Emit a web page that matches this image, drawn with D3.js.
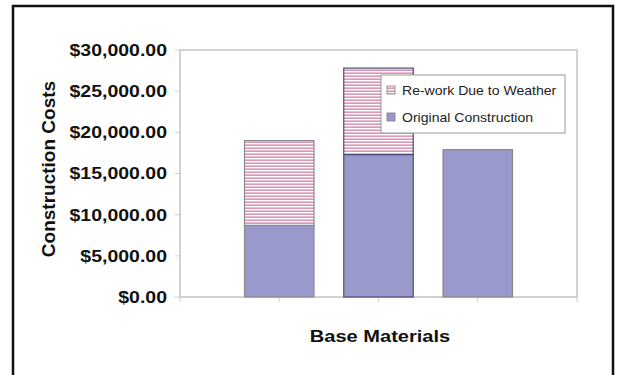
<html>
<script src="https://d3js.org/d3.v7.min.js"></script>
<body style="margin:0;background:#fff"></body>
<script>
const width = 618;
const height = 375;

// data
const materials = ['Material 1', 'Material 2', 'Material 3'];
const seriesNames = ['Re-work Due to Weather', 'Original Construction'];
const original = [8700, 17300, 17900];
const rework = [10300, 10500, 0];
const yTicks = [0, 5000, 10000, 15000, 20000, 25000, 30000];

const plot = {left: 180, right: 577, top: 50, bottom: 297};
const purple = '#9999cc';

// excel-ish text looks a bit wider than liberation, stretch it
function widen(sel, k) {
    sel.each(function () {
        const w = this.getComputedTextLength();
        d3.select(this).attr('textLength', w * k).attr('lengthAdjust', 'spacingAndGlyphs');
    });
}

const svg = d3.select('body').append('svg')
    .attr('width', width)
    .attr('height', height)
    .style('font-family', '"Liberation Sans", Arial, sans-serif');

const defs = svg.append('defs');
const hatch = defs.append('pattern')
    .attr('id', 'hatch')
    .attr('patternUnits', 'userSpaceOnUse')
    .attr('width', 6).attr('height', 3);
hatch.append('rect').attr('width', 6).attr('height', 3).attr('fill', '#fff');
hatch.append('rect').attr('y', 0.5).attr('width', 6).attr('height', 1.3).attr('fill', '#d27fa8');

// outer frame
svg.append('rect')
    .attr('x', 13).attr('y', 6)
    .attr('width', 600).attr('height', 420)
    .attr('fill', 'none')
    .attr('stroke', '#111')
    .attr('stroke-width', 2.5);

const x = d3.scaleBand()
    .domain(materials)
    .range([plot.left, plot.right])
    .paddingInner(0.3)
    .paddingOuter(0.65);

const y = d3.scaleLinear()
    .domain([0, 30000])
    .range([plot.bottom, plot.top]);

const fmt = d3.format('$,.2f');

// plot frame
svg.append('rect')
    .attr('x', plot.left).attr('y', plot.top)
    .attr('width', plot.right - plot.left).attr('height', plot.bottom - plot.top)
    .attr('fill', 'none')
    .attr('stroke', '#c4c4c4')
    .attr('stroke-width', 1.5);

// y ticks + labels
const yAxis = svg.append('g');
yAxis.selectAll('line')
    .data(yTicks)
    .enter().append('line')
        .attr('x1', plot.left - 5).attr('x2', plot.left)
        .attr('y1', d => y(d)).attr('y2', d => y(d))
        .attr('stroke', '#d0d0d0');
yAxis.selectAll('text')
    .data(yTicks)
    .enter().append('text')
        .attr('x', 167)
        .attr('y', d => y(d))
        .attr('dy', '0.36em')
        .attr('text-anchor', 'end')
        .attr('font-size', 16.5)
        .attr('font-weight', 'bold')
        .attr('fill', '#111')
        .text(d => fmt(d))
        .call(widen, 1.18);

// x ticks: edges plus band centres
const xTicks = [plot.left].concat(materials.map(m => x(m) + x.bandwidth() / 2), [plot.right]);
svg.append('g').selectAll('line')
    .data(xTicks)
    .enter().append('line')
        .attr('x1', d => d).attr('x2', d => d)
        .attr('y1', plot.bottom).attr('y2', plot.bottom + 5)
        .attr('stroke', '#d0d0d0');

// bars
const strokes = ['#8a8a8a', '#4b4b7c', '#8a8a8a'];
const bars = svg.append('g')
    .selectAll('g')
    .data(materials)
    .enter().append('g');

bars.append('rect')
    .attr('x', d => x(d))
    .attr('width', x.bandwidth())
    .attr('y', (d, i) => y(original[i]))
    .attr('height', (d, i) => y(0) - y(original[i]))
    .attr('fill', purple)
    .attr('stroke', (d, i) => strokes[i])
    .attr('stroke-width', 1.2);

bars.filter((d, i) => rework[i] > 0)
    .append('rect')
    .attr('x', d => x(d))
    .attr('width', x.bandwidth())
    .attr('y', d => { const i = materials.indexOf(d); return y(original[i] + rework[i]); })
    .attr('height', d => { const i = materials.indexOf(d); return y(original[i]) - y(original[i] + rework[i]); })
    .attr('fill', 'url(#hatch)')
    .attr('stroke', d => strokes[materials.indexOf(d)])
    .attr('stroke-width', 1.2);

// axis titles
svg.append('text')
    .attr('transform', 'translate(55,169) rotate(-90)')
    .attr('text-anchor', 'middle')
    .attr('font-size', 19)
    .attr('font-weight', 'bold')
    .attr('fill', '#111')
    .text('Construction Costs');

svg.append('text')
    .attr('x', 380)
    .attr('y', 342)
    .attr('text-anchor', 'middle')
    .attr('font-size', 17)
    .attr('font-weight', 'bold')
    .attr('fill', '#111')
    .text('Base Materials')
    .call(widen, 1.18);

// legend
const legend = svg.append('g').attr('transform', 'translate(381,75)');
legend.append('rect')
    .attr('width', 184).attr('height', 58)
    .attr('fill', '#fff')
    .attr('stroke', '#9a9a9a');
const items = legend.selectAll('g.item')
    .data(seriesNames)
    .enter().append('g')
        .attr('class', 'item')
        .attr('transform', (d, i) => `translate(6,${15 + i * 27})`);
items.append('rect')
    .attr('y', -4)
    .attr('width', 8).attr('height', 8)
    .attr('fill', (d, i) => i === 0 ? 'url(#hatch)' : purple)
    .attr('stroke', '#7a7a7a')
    .attr('stroke-width', 0.8);
items.append('text')
    .attr('x', 15)
    .attr('dy', '0.36em')
    .attr('font-size', 13)
    .attr('fill', '#222')
    .text(d => d)
    .call(widen, 1.08);
</script>
</html>
